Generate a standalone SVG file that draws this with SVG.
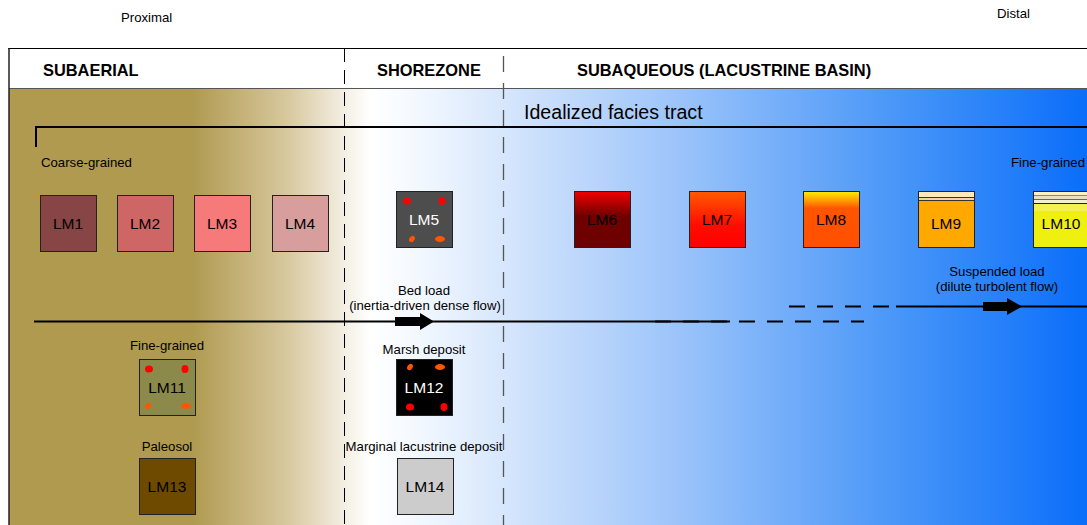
<svg xmlns="http://www.w3.org/2000/svg" width="1087" height="525" viewBox="0 0 1087 525">
<defs>
<linearGradient id="bg" x1="0" y1="0" x2="1" y2="0">
<stop offset="0" stop-color="#B09A50"/>
<stop offset="0.17" stop-color="#B09A50"/>
<stop offset="0.26" stop-color="#D8C9A0"/>
<stop offset="0.31" stop-color="#F3EEE2"/>
<stop offset="0.335" stop-color="#FFFFFF"/>
<stop offset="0.37" stop-color="#F6FAFF"/>
<stop offset="0.46" stop-color="#D6E6FC"/>
<stop offset="0.62" stop-color="#9CC4FA"/>
<stop offset="0.82" stop-color="#4A97F8"/>
<stop offset="1" stop-color="#0A6EFA"/>
</linearGradient>
<linearGradient id="g6" x1="0" y1="0" x2="0" y2="1"><stop offset="0" stop-color="#F00000"/><stop offset="0.45" stop-color="#6E0000"/><stop offset="1" stop-color="#6E0000"/></linearGradient>
<linearGradient id="g7" x1="0" y1="0" x2="0" y2="1"><stop offset="0" stop-color="#FF5A00"/><stop offset="0.6" stop-color="#FF0C00"/><stop offset="1" stop-color="#FF0000"/></linearGradient>
<linearGradient id="g8" x1="0" y1="0" x2="0" y2="1"><stop offset="0" stop-color="#FFEE00"/><stop offset="0.3" stop-color="#FF5500"/><stop offset="1" stop-color="#FF5000"/></linearGradient>
<style>
.hdr{font-family:"Liberation Sans",Arial,sans-serif;font-weight:bold;font-size:16.4px;fill:#000}
.lbl{font-family:"Liberation Sans",Arial,sans-serif;font-size:13.2px;fill:#000}
.lm{font-family:"Liberation Sans",Arial,sans-serif;font-size:15.5px;fill:#000;text-anchor:middle}
.lmw{font-family:"Liberation Sans",Arial,sans-serif;font-size:15.5px;fill:#fff;text-anchor:middle}
.box{stroke:#222;stroke-width:1}
.mid{text-anchor:middle}
</style>
</defs>
<rect x="0" y="0" width="1087" height="525" fill="#fff"/>
<rect x="9" y="88" width="1078" height="437" fill="url(#bg)"/>
<rect x="9" y="48" width="1078" height="40" fill="#fff"/>
<line x1="8" y1="48.5" x2="1087" y2="48.5" stroke="#000" stroke-width="1"/>
<line x1="9" y1="88.5" x2="1087" y2="88.5" stroke="#555" stroke-width="1"/>
<line x1="9" y1="48" x2="9" y2="525" stroke="#222" stroke-width="1.5"/>
<text class="lbl" x="121" y="22">Proximal</text>
<text class="lbl" x="997" y="18">Distal</text>
<text class="hdr" x="43" y="76">SUBAERIAL</text>
<text class="hdr" x="377" y="76">SHOREZONE</text>
<text class="hdr" x="577" y="76">SUBAQUEOUS (LACUSTRINE BASIN)</text>
<g id="dividers">
<line x1="344.5" y1="48" x2="344.5" y2="525" stroke="#000" stroke-width="1" stroke-dasharray="14,8"/>
<line x1="503.5" y1="56" x2="503.5" y2="525" stroke="#555" stroke-width="1.3" stroke-dasharray="16,11"/>
</g>
<g id="tract">
<line x1="36" y1="127" x2="1087" y2="127" stroke="#000" stroke-width="2"/>
<line x1="36" y1="126" x2="36" y2="147" stroke="#000" stroke-width="2"/>
<text x="524" y="119" font-family="Liberation Sans,Arial,sans-serif" font-size="19.6" fill="#000">Idealized facies tract</text>
</g>
<text class="lbl" x="41" y="167">Coarse-grained</text>
<text class="lbl" x="1011" y="167">Fine-grained</text>
<g id="LM1"><rect class="box" x="40.5" y="195.5" width="56" height="56" fill="#874545"/><text class="lm" x="68" y="229">LM1</text></g>
<g id="LM2"><rect class="box" x="117.5" y="195.5" width="56" height="56" fill="#CF6666"/><text class="lm" x="145" y="229">LM2</text></g>
<g id="LM3"><rect class="box" x="194.5" y="195.5" width="56" height="56" fill="#F77A7A"/><text class="lm" x="222" y="229">LM3</text></g>
<g id="LM4"><rect class="box" x="272.5" y="195.5" width="56" height="56" fill="#D89E9E" stroke="#555"/><text class="lm" x="300" y="229">LM4</text></g>
<g id="LM5"><rect class="box" x="396.5" y="191.5" width="56" height="56" fill="#4D4D4D"/>
<ellipse cx="407" cy="201" rx="4" ry="3.5" fill="#F00"/><ellipse cx="442" cy="201" rx="3.5" ry="4" fill="#F00"/>
<ellipse cx="412" cy="239" rx="2.5" ry="3.5" transform="rotate(35 412 239)" fill="#FF5500"/><ellipse cx="440" cy="239" rx="5" ry="3" fill="#FF5500"/>
<text class="lmw" x="424" y="225">LM5</text></g>
<g id="LM6"><rect class="box" x="574.5" y="191.5" width="56" height="56" fill="url(#g6)"/><text class="lm" x="602" y="225">LM6</text></g>
<g id="LM7"><rect class="box" x="689.5" y="191.5" width="56" height="56" fill="url(#g7)"/><text class="lm" x="717" y="225">LM7</text></g>
<g id="LM8"><rect class="box" x="803.5" y="191.5" width="56" height="56" fill="url(#g8)"/><text class="lm" x="831" y="225">LM8</text></g>
<g id="LM9"><rect class="box" x="918.5" y="191.5" width="56" height="56" fill="#FFA800"/>
<rect x="919" y="192" width="55" height="5" fill="#FFE8B8"/><line x1="919" y1="197.5" x2="974" y2="197.5" stroke="#333"/><rect x="919" y="198" width="55" height="2" fill="#F2D8A0"/><line x1="919" y1="200.5" x2="974" y2="200.5" stroke="#333"/>
<text class="lm" x="946" y="229">LM9</text></g>
<g id="LM10"><rect class="box" x="1033.5" y="191.5" width="56" height="56" fill="#F0F010"/>
<rect x="1034" y="192" width="55" height="3" fill="#FFF0C0"/><line x1="1034" y1="195.5" x2="1089" y2="195.5" stroke="#888"/><rect x="1034" y="196" width="55" height="3" fill="#E8E0C0"/><line x1="1034" y1="199.5" x2="1089" y2="199.5" stroke="#666"/><rect x="1034" y="200" width="55" height="3" fill="#F2F0D0"/><line x1="1034" y1="203.5" x2="1089" y2="203.5" stroke="#222"/><rect x="1034" y="204" width="55" height="7" fill="#F4F050"/>
<text class="lm" x="1061" y="229">LM10</text></g>
<g id="connectors">
<line x1="34" y1="321.5" x2="730" y2="321.5" stroke="#000" stroke-width="2"/>
<line x1="655" y1="321.5" x2="864" y2="321.5" stroke="#000" stroke-width="2" stroke-dasharray="16,12"/>
<line x1="789" y1="306.5" x2="893" y2="306.5" stroke="#000" stroke-width="2" stroke-dasharray="16,12"/>
<line x1="896" y1="306.5" x2="1087" y2="306.5" stroke="#000" stroke-width="2"/>
<polygon points="395,317 420,317 420,313 434,321.5 420,330 420,326 395,326" fill="#000"/>
<polygon points="983,302 1007,302 1007,298 1022,306.5 1007,315 1007,311 983,311" fill="#000"/>
</g>
<text class="lbl mid" x="424" y="295">Bed load</text>
<text class="lbl mid" x="425" y="310">(inertia-driven dense flow)</text>
<text class="lbl mid" x="997" y="276">Suspended load</text>
<text class="lbl mid" x="997" y="291">(dilute turbolent flow)</text>
<text class="lbl mid" x="167" y="350">Fine-grained</text>
<g id="LM11"><rect class="box" x="139.5" y="359.5" width="56" height="56" fill="#8C8A4A"/>
<ellipse cx="149" cy="369" rx="4" ry="3.5" fill="#F00"/><ellipse cx="185" cy="369" rx="3.5" ry="4" fill="#F00"/>
<ellipse cx="148" cy="406" rx="2.5" ry="3.5" transform="rotate(35 148 406)" fill="#FF5500"/><ellipse cx="186" cy="406" rx="5" ry="3" fill="#FF5500"/>
<text class="lm" x="167" y="393">LM11</text></g>
<text class="lbl mid" x="424" y="354">Marsh deposit</text>
<g id="LM12"><rect class="box" x="396.5" y="359.5" width="56" height="56" fill="#000"/>
<ellipse cx="410" cy="367" rx="2.5" ry="3.5" transform="rotate(35 410 367)" fill="#FF5500"/><ellipse cx="440" cy="367" rx="5" ry="3" fill="#FF5500"/>
<ellipse cx="410" cy="407" rx="4" ry="3.5" fill="#F00"/><ellipse cx="444" cy="407" rx="3.5" ry="4" fill="#F00"/>
<text class="lmw" x="424" y="393">LM12</text></g>
<text class="lbl mid" x="167" y="451">Paleosol</text>
<g id="LM13"><rect class="box" x="139.5" y="458.5" width="56" height="56" fill="#6E4A00"/><text class="lm" x="167" y="492">LM13</text></g>
<text class="lbl mid" x="424" y="451">Marginal lacustrine deposit</text>
<g id="LM14"><rect class="box" x="397.5" y="458.5" width="56" height="56" fill="#CCCCCC" stroke="#444"/><text class="lm" x="425" y="492">LM14</text></g>
</svg>
